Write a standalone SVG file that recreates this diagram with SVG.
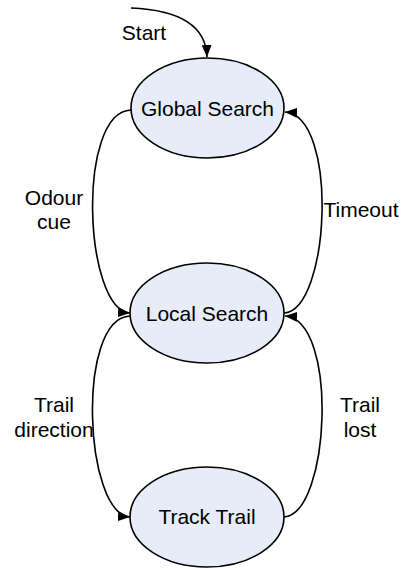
<svg xmlns="http://www.w3.org/2000/svg" width="404" height="568" viewBox="0 0 404 568">
<style>
.node{fill:#E6ECF8;stroke:#000;stroke-width:1.6}
.lbl{font-family:"Liberation Sans",Arial,sans-serif;font-size:21px;fill:#000;text-anchor:middle}
.edge{fill:none;stroke:#000;stroke-width:1.6;marker-end:url(#arr)}
</style>
<defs>
<marker id="arr" viewBox="0 0 12 10" refX="12" refY="5" markerWidth="12" markerHeight="10" markerUnits="userSpaceOnUse" orient="auto">
<path d="M0,0 L12,5 L0,10 z" fill="#000"/>
</marker>
</defs>
<g id="connectors">
<path class="edge" d="M131,8 C180,10 206,26 207,57"/>
<path class="edge" d="M131,110 C76,112 84,310 130,313"/>
<path class="edge" d="M284,313 C330,310 339,116 285,112"/>
<path class="edge" d="M130,316 C76,318 84,514 130,517"/>
<path class="edge" d="M284,517 C330,514 339,320 285,316"/>
</g>
<g id="start-label"><text class="lbl" x="144" y="40">Start</text></g>
<g id="label-odour"><text class="lbl" x="54" y="205">Odour</text><text class="lbl" x="54" y="229">cue</text></g>
<g id="label-timeout"><text class="lbl" x="361" y="217">Timeout</text></g>
<g id="label-trail-direction"><text class="lbl" x="54" y="412">Trail</text><text class="lbl" x="54" y="437">direction</text></g>
<g id="label-trail-lost"><text class="lbl" x="360" y="412">Trail</text><text class="lbl" x="360" y="437">lost</text></g>
<g id="global-search"><ellipse class="node" cx="207.5" cy="108" rx="76.5" ry="50"/><text class="lbl" x="207.5" y="116">Global Search</text></g>
<g id="local-search"><ellipse class="node" cx="207" cy="313" rx="77" ry="50"/><text class="lbl" x="207" y="321">Local Search</text></g>
<g id="track-trail"><ellipse class="node" cx="207" cy="517" rx="77" ry="50"/><text class="lbl" x="207" y="524">Track Trail</text></g>
</svg>
